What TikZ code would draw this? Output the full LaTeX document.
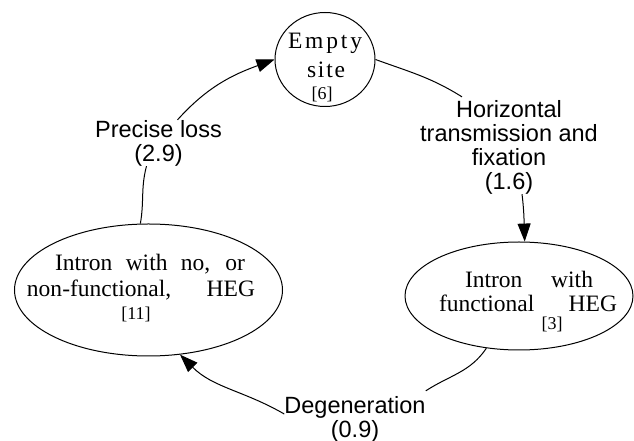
\documentclass[tikz,border=0pt]{standalone}
\usepackage{fontspec}
\setmainfont{Liberation Serif}
\newfontfamily\labfont{Liberation Sans}
\usetikzlibrary{shapes.geometric,arrows.meta}
\begin{document}
\begin{tikzpicture}[x=1pt,y=1pt,
  state/.style={draw, ellipse, line width=1pt, inner sep=0pt},
  txt/.style={anchor=base, inner sep=0pt, font=\fontsize{23.5}{25}\selectfont},
  num/.style={anchor=base, inner sep=0pt, font=\fontsize{18}{20}\selectfont},
  lab/.style={align=center, inner sep=0pt, font=\labfont\fontsize{23.5}{24}\selectfont},
  conn/.style={line width=1pt},
  arr/.style={conn, -{Triangle[length=18pt,width=13pt]}}]
\useasboundingbox (0,0) rectangle (634,441);
% states
\node[state, minimum width=100pt, minimum height=94pt] (E) at (325,381.5) {};
\node[state, minimum width=268pt, minimum height=132pt] (L) at (148.5,151) {};
\node[state, minimum width=228pt, minimum height=108pt] (R) at (519,145) {};
% state texts
\node[txt] (E1) at (325,392) {\makebox[74pt][s]{E\hfil m\hfil p\hfil t\hfil y}};
\node[txt] (E2) at (326,363) {\makebox[38pt][s]{s\hfil i\hfil t\hfil e}};
\node[num] (E3) at (322,341) {[6]};
\node[txt] (L1) at (150,170) {\makebox[190pt][s]{Intron with no, or}};
\node[txt] (L2) at (141,144) {\makebox[228pt][s]{non-functional, HEG}};
\node[num] (L3) at (136,121) {[11]};
\node[txt] (R1) at (529,153) {\makebox[128pt][s]{Intron with}};
\node[txt] (R2) at (528,129) {\makebox[178pt][s]{functional HEG}};
\node[num] (R3) at (552,111) {[3]};
% labels
\node[lab] (PL) at (158.5,298) {Precise loss\\(2.9)};
\node[lab] (HT) at (509,294) {Horizontal\\transmission and\\fixation\\(1.6)};
\node[lab] (DG) at (355,22) {Degeneration\\(0.9)};
% connectors
\draw[conn] (L.97) to[out=80,in=-105] ([xshift=-12pt]PL.south);
\draw[arr] ([xshift=19pt]PL.north) to[out=48,in=200] (E.west);
\draw[conn] (E.east) to[out=-20,in=148] ([xshift=-47pt,yshift=3pt]HT.north);
\draw[arr] ([xshift=13pt]HT.south) to[out=-83,in=92] (R.84);
\draw[conn] (R.238) to[out=236,in=33] ([yshift=5pt]DG.north east);
\draw[arr] ([yshift=5pt]DG.west) to[out=150,in=-45] (L.-64);
\end{tikzpicture}
\end{document}
